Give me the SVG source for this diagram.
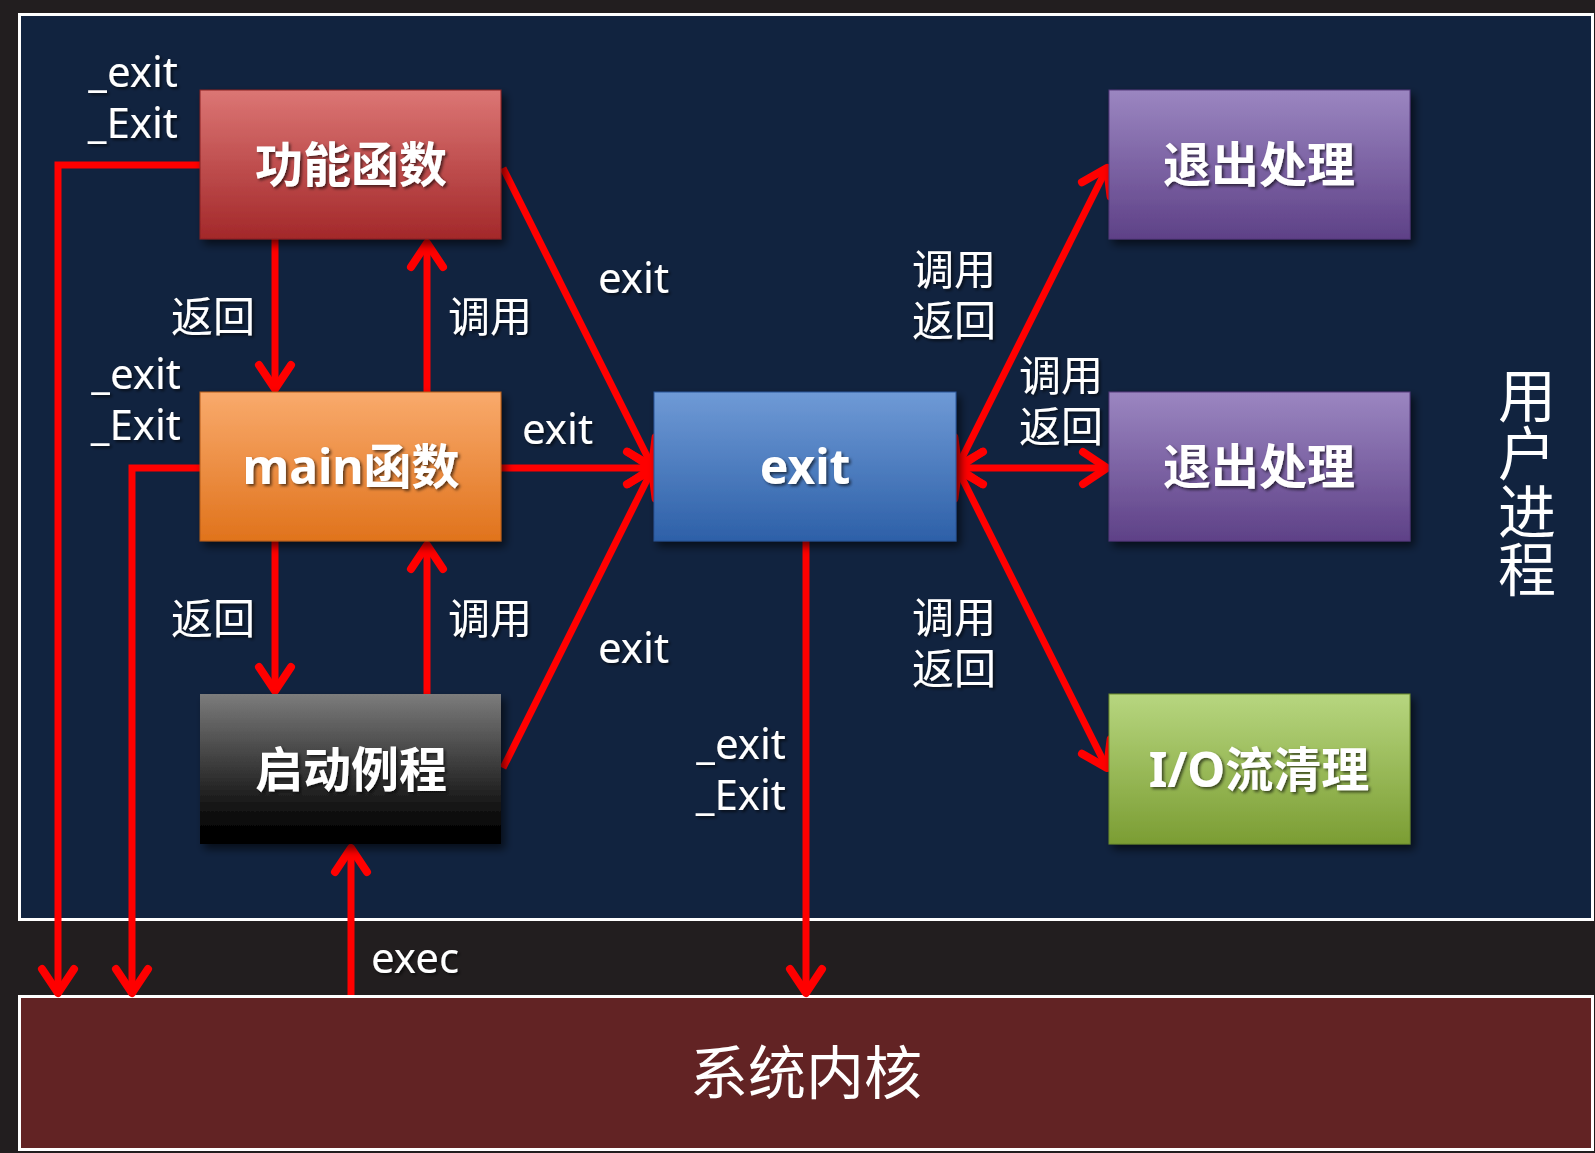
<svg xmlns="http://www.w3.org/2000/svg" width="1595" height="1153" viewBox="0 0 1595 1153">
<defs>
<style>
.lbl{font-family:"Noto Sans","Noto Sans CJK SC",sans-serif;font-size:42px;fill:#fff;filter:url(#ts)}
.nt{font-family:"Noto Sans","Noto Sans CJK SC",sans-serif;font-size:48px;font-weight:bold;fill:#fff;text-anchor:middle;filter:url(#ts)}
.big{font-family:"Noto Sans CJK SC","Noto Sans",sans-serif;font-size:58px;fill:#fff}
.ln{stroke:#ff0000;stroke-width:7;fill:none}
.box{filter:url(#ds)}
</style>
<filter id="ds" x="-10%" y="-10%" width="125%" height="130%">
<feDropShadow dx="4" dy="5" stdDeviation="4" flood-color="#000" flood-opacity="0.6"/>
</filter>
<filter id="ts" x="-10%" y="-20%" width="130%" height="150%">
<feDropShadow dx="2" dy="2" stdDeviation="1.5" flood-color="#000" flood-opacity="0.6"/>
</filter>
<marker id="ah" markerUnits="userSpaceOnUse" viewBox="-32 -22 40 44" refX="0" refY="0" markerWidth="40" markerHeight="44" orient="auto-start-reverse">
<path d="M-24,-16 L0,0 L-24,16" fill="none" stroke="#ff0000" stroke-width="8" stroke-linecap="round" stroke-linejoin="round"/>
</marker>
<linearGradient id="gRed" x1="0" y1="0" x2="0" y2="1"><stop offset="0" stop-color="#dc7674"/><stop offset="1" stop-color="#a3282a"/></linearGradient>
<linearGradient id="gOr" x1="0" y1="0" x2="0" y2="1"><stop offset="0" stop-color="#f9aa6c"/><stop offset="1" stop-color="#e0731c"/></linearGradient>
<linearGradient id="gBk" x1="0" y1="0" x2="0" y2="1"><stop offset="0" stop-color="#7c7c7c"/><stop offset="0.85" stop-color="#080808"/><stop offset="1" stop-color="#000"/></linearGradient>
<linearGradient id="gBl" x1="0" y1="0" x2="0" y2="1"><stop offset="0" stop-color="#6f9ad6"/><stop offset="1" stop-color="#2d60a8"/></linearGradient>
<linearGradient id="gPu" x1="0" y1="0" x2="0" y2="1"><stop offset="0" stop-color="#9b86c1"/><stop offset="1" stop-color="#5e4187"/></linearGradient>
<linearGradient id="gGr" x1="0" y1="0" x2="0" y2="1"><stop offset="0" stop-color="#b7d67f"/><stop offset="1" stop-color="#7b9d33"/></linearGradient>
</defs>

<rect x="0" y="0" width="1595" height="1153" fill="#221e1f"/>
<g id="user-process">
<rect x="19.5" y="14.5" width="1573" height="905" fill="#11233f" stroke="#fff" stroke-width="3"/>
<text class="big" x="1527" y="366" style="writing-mode:vertical-rl;glyph-orientation-vertical:0">用户进程</text>
</g>
<g id="kernel">
<rect x="19.5" y="996.5" width="1573" height="153" fill="#622324" stroke="#fff" stroke-width="3"/>
<text class="big" x="806" y="1094" text-anchor="middle">系统内核</text>
</g>

<g id="connectors">
<polyline class="ln" points="200,165 58,165 58,993" marker-end="url(#ah)"/>
<polyline class="ln" points="200,468 132,468 132,993" marker-end="url(#ah)"/>
<line class="ln" x1="275" y1="239" x2="275" y2="389" marker-end="url(#ah)"/>
<line class="ln" x1="427" y1="392" x2="427" y2="243" marker-end="url(#ah)"/>
<line class="ln" x1="275" y1="541" x2="275" y2="691" marker-end="url(#ah)"/>
<line class="ln" x1="427" y1="694" x2="427" y2="545" marker-end="url(#ah)"/>
<line class="ln" x1="351" y1="995" x2="351" y2="848" marker-end="url(#ah)"/>
<line class="ln" x1="806" y1="541" x2="806" y2="993" marker-end="url(#ah)"/>
<line class="ln" x1="503" y1="168" x2="652" y2="466" marker-end="url(#ah)"/>
<line class="ln" x1="501" y1="468" x2="652" y2="468" marker-end="url(#ah)"/>
<line class="ln" x1="503" y1="768" x2="652" y2="470" marker-end="url(#ah)"/>
<line class="ln" x1="958" y1="466" x2="1107" y2="168" marker-start="url(#ah)" marker-end="url(#ah)"/>
<line class="ln" x1="958" y1="468" x2="1107" y2="468" marker-start="url(#ah)" marker-end="url(#ah)"/>
<line class="ln" x1="958" y1="470" x2="1107" y2="768" marker-start="url(#ah)" marker-end="url(#ah)"/>
</g>

<g id="labels">
<text class="lbl" text-anchor="end"><tspan x="178" y="87">_exit</tspan><tspan x="178" y="138">_Exit</tspan></text>
<text class="lbl" text-anchor="end"><tspan x="181" y="389">_exit</tspan><tspan x="181" y="440">_Exit</tspan></text>
<text class="lbl" x="171" y="332">返回</text>
<text class="lbl" x="448" y="332">调用</text>
<text class="lbl" x="171" y="634">返回</text>
<text class="lbl" x="448" y="634">调用</text>
<text class="lbl" x="598" y="293">exit</text>
<text class="lbl" x="522" y="444">exit</text>
<text class="lbl" x="598" y="663">exit</text>
<text class="lbl" text-anchor="end"><tspan x="786" y="759">_exit</tspan><tspan x="786" y="810">_Exit</tspan></text>
<text class="lbl" x="371" y="973">exec</text>
<text class="lbl" x="912" y="285">调用</text>
<text class="lbl" x="912" y="336">返回</text>
<text class="lbl" x="1019" y="391">调用</text>
<text class="lbl" x="1019" y="442">返回</text>
<text class="lbl" x="912" y="633">调用</text>
<text class="lbl" x="912" y="684">返回</text>
</g>

<g id="node-func" class="box"><rect x="200" y="90" width="301" height="149" fill="url(#gRed)" stroke="#8a2020" stroke-width="1"/><text class="nt" x="351" y="182">功能函数</text></g>
<g id="node-main" class="box"><rect x="200" y="392" width="301" height="149" fill="url(#gOr)" stroke="#b85d18" stroke-width="1"/><text class="nt" x="351" y="484">main函数</text></g>
<g id="node-start" class="box"><rect x="200" y="694" width="301" height="150" fill="url(#gBk)"/><text class="nt" x="351" y="787">启动例程</text></g>
<g id="node-exit" class="box"><rect x="654" y="392" width="302" height="149" fill="url(#gBl)" stroke="#2a5596" stroke-width="1"/><text class="nt" x="805" y="484">exit</text></g>
<g id="node-handler1" class="box"><rect x="1109" y="90" width="301" height="149" fill="url(#gPu)" stroke="#563b7c" stroke-width="1"/><text class="nt" x="1259" y="182">退出处理</text></g>
<g id="node-handler2" class="box"><rect x="1109" y="392" width="301" height="149" fill="url(#gPu)" stroke="#563b7c" stroke-width="1"/><text class="nt" x="1259" y="484">退出处理</text></g>
<g id="node-io" class="box"><rect x="1109" y="694" width="301" height="150" fill="url(#gGr)" stroke="#6d8c2d" stroke-width="1"/><text class="nt" x="1259" y="787">I/O流清理</text></g>
</svg>
